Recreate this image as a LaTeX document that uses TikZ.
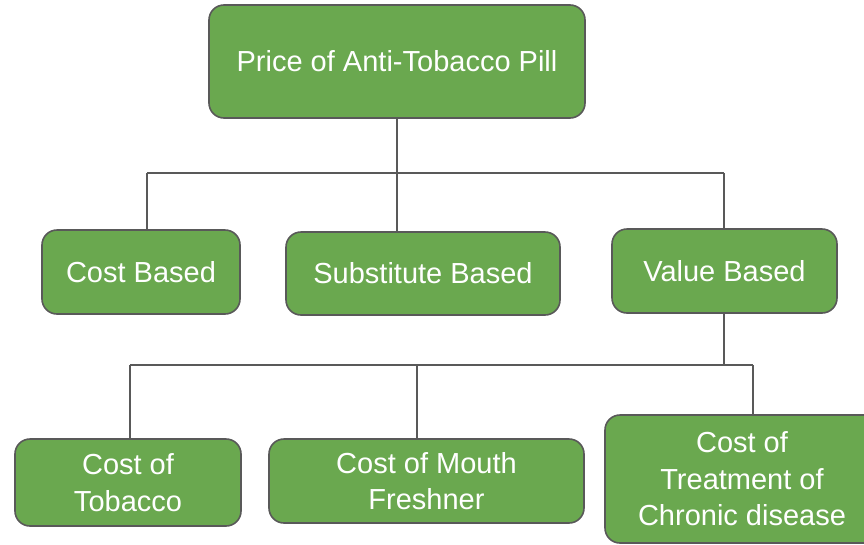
\documentclass[tikz,border=0pt]{standalone}
\usepackage{fontspec}
\setmainfont{Liberation Sans}
\definecolor{boxgreen}{HTML}{6AA84F}
\definecolor{edgegray}{HTML}{595959}
\begin{document}
\begin{tikzpicture}[x=1pt,y=-1pt,
  box/.style={draw=edgegray, line width=1.6pt, fill=boxgreen, rounded corners=15pt,
    text=white, align=center, inner sep=0pt,
    font=\fontsize{29}{36.5}\selectfont},
  link/.style={draw=edgegray, line width=1.4pt}]
\clip (0,0) rectangle (864,544);
\useasboundingbox (0,0) rectangle (864,544);
\node[box, minimum width=376pt, minimum height=113pt] (top) at (397,61.5) {Price of Anti-Tobacco Pill};
\node[box, minimum width=198pt, minimum height=84pt] (cost) at (141,272) {Cost Based};
\node[box, minimum width=274pt, minimum height=83pt] (subst) at (423,273.5) {Substitute Based};
\node[box, minimum width=225pt, minimum height=84pt] (value) at (724.5,271) {Value Based};
\node[box, minimum width=226pt, minimum height=87pt] (tobacco) at (128,482.5) {Cost of\\Tobacco};
\node[box, minimum width=315pt, minimum height=84pt] (mouth) at (426.5,481) {Cost of Mouth\\Freshner};
\node[box, minimum width=274pt, minimum height=128pt] (treat) at (742,479) {Cost of\\Treatment of\\Chronic disease};
% upper bus
\coordinate (b1) at (397,173);
\coordinate (b1l) at (147,173);
\coordinate (b1r) at (724,173);
\draw[link] (top.south) -- (b1) -- (b1 |- subst.north);
\draw[link] (b1l) -- (b1r);
\draw[link] (b1l) -- (b1l |- cost.north);
\draw[link] (b1r) -- (b1r |- value.north);
% lower bus
\coordinate (b2) at (724,365);
\coordinate (b2l) at (130,365);
\coordinate (b2m) at (417,365);
\coordinate (b2r) at (753,365);
\draw[link] (b2 |- value.south) -- (b2);
\draw[link] (b2l) -- (b2r);
\draw[link] (b2l) -- (b2l |- tobacco.north);
\draw[link] (b2m) -- (b2m |- mouth.north);
\draw[link] (b2r) -- (b2r |- treat.north);
\end{tikzpicture}
\end{document}
